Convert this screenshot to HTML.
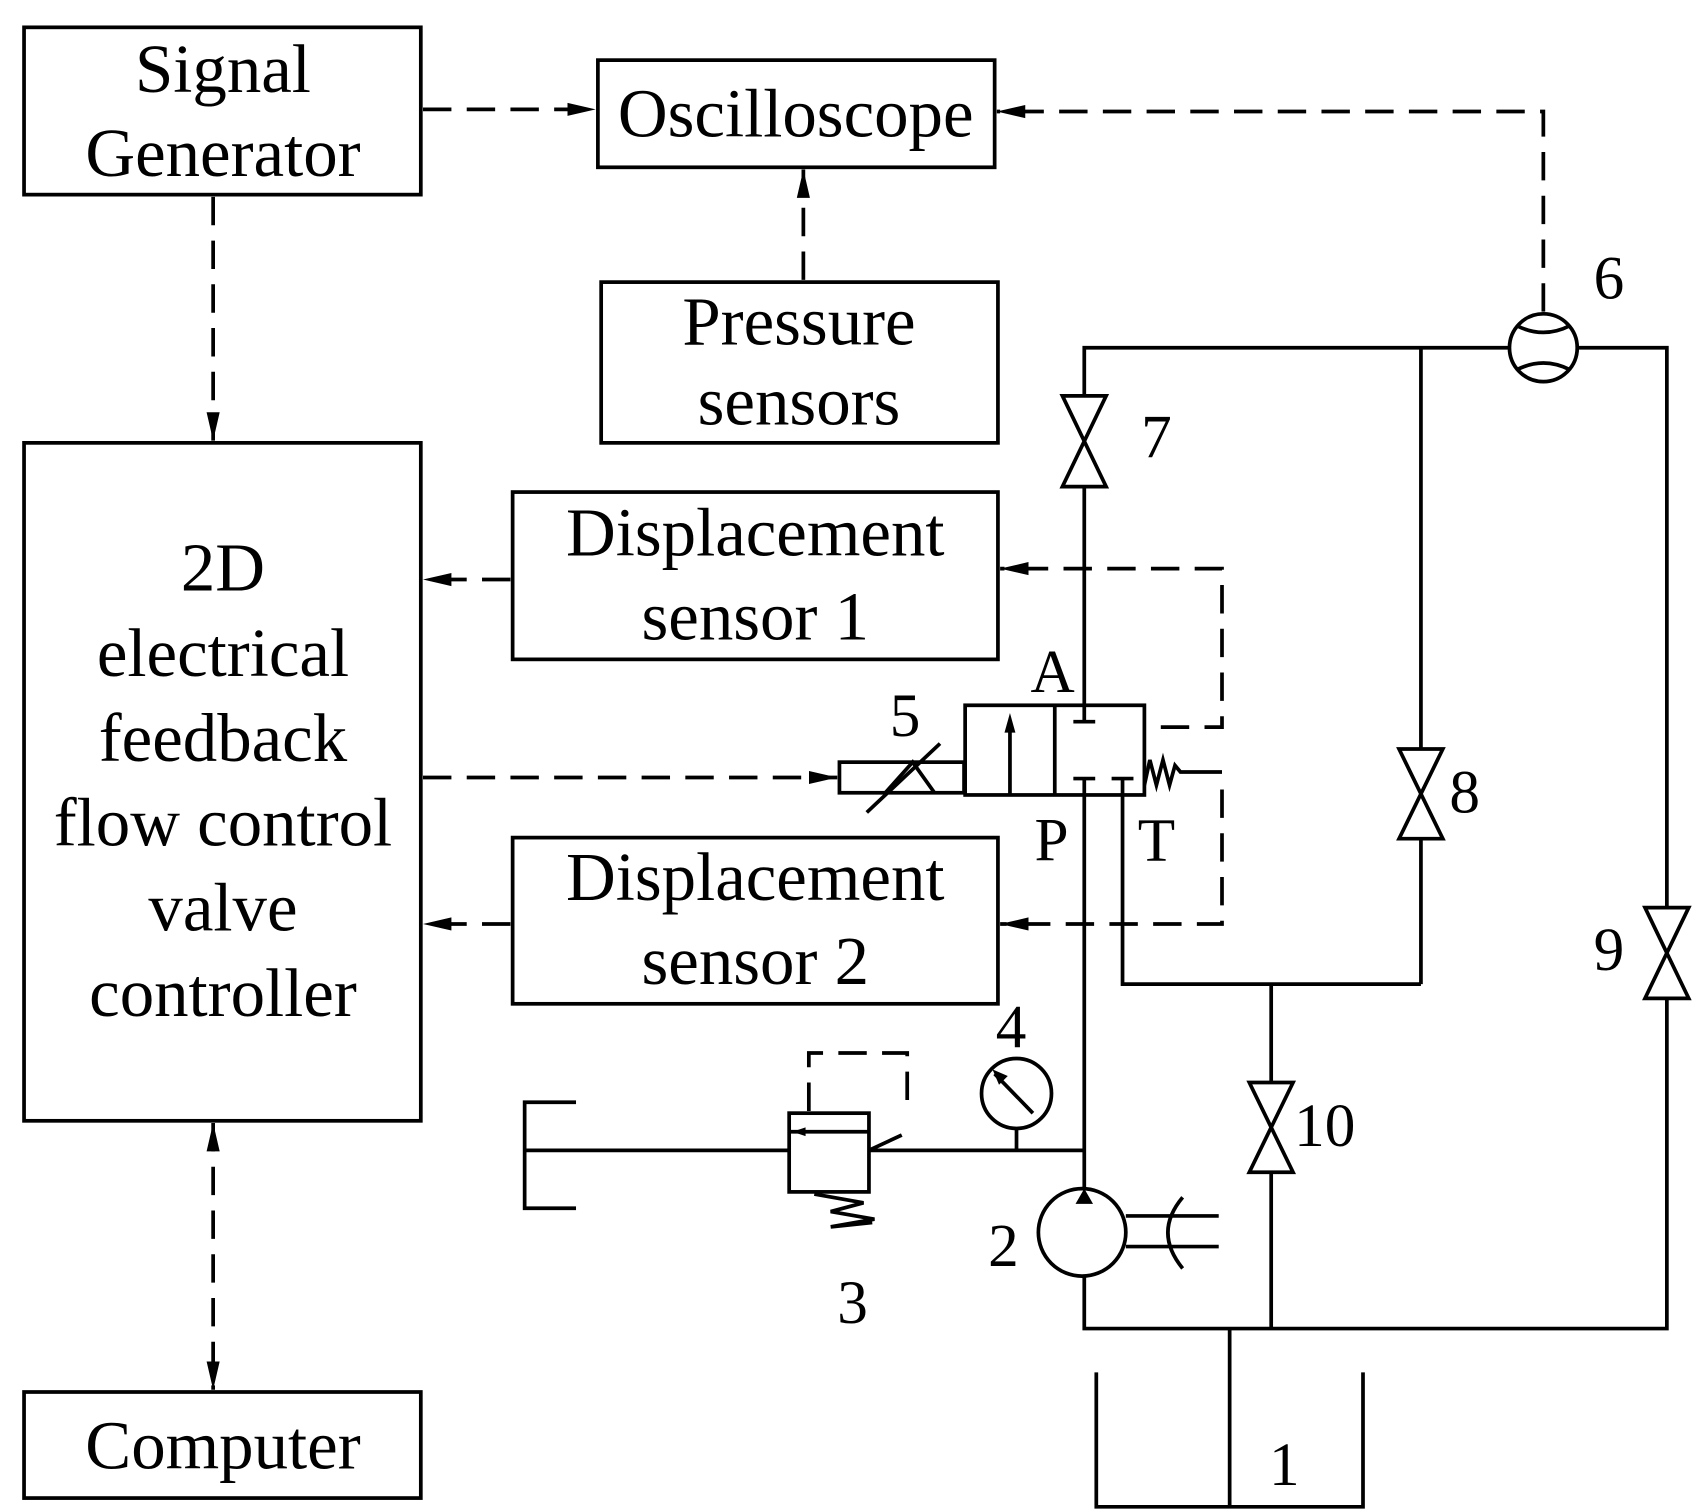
<!DOCTYPE html>
<html><head><style>html,body{margin:0;padding:0;background:#fff}svg{display:block}</style></head><body>
<svg width="1692" height="1509" viewBox="0 0 1548 1380" preserveAspectRatio="none" xmlns="http://www.w3.org/2000/svg">
<defs>
<marker id="ar2" markerWidth="28" markerHeight="16" refX="26" refY="8" orient="auto" markerUnits="userSpaceOnUse"><path d="M0,2 L26,8 L0,14Z" fill="#000"/></marker>
<marker id="ar2s" markerWidth="28" markerHeight="16" refX="2" refY="8" orient="auto" markerUnits="userSpaceOnUse"><path d="M28,2 L2,8 L28,14Z" fill="#000"/></marker></defs>
<g fill="none" stroke="#000" stroke-width="3.4">
<rect x="22" y="25" width="363" height="153"/>
<rect x="547" y="55" width="363" height="98"/>
<rect x="550" y="258" width="363" height="147"/>
<rect x="22" y="405" width="363" height="620"/>
<rect x="469" y="450" width="444" height="153"/>
<rect x="469" y="766" width="444" height="152"/>
<rect x="22" y="1273" width="363" height="97"/>
</g>
<g fill="none" stroke="#000" stroke-width="3.4" stroke-dasharray="26,14">
<line x1="387" y1="100" x2="545" y2="100" marker-end="url(#ar2)"/>
<polyline points="1412,285 1412,102 912,102" marker-end="url(#ar2)"/>
<line x1="735" y1="256" x2="735" y2="155" marker-end="url(#ar2)"/>
<line x1="195" y1="180" x2="195" y2="403" marker-end="url(#ar2)"/>
<line x1="467" y1="530" x2="387" y2="530" marker-end="url(#ar2)"/>
<line x1="467" y1="845" x2="387" y2="845" marker-end="url(#ar2)"/>
<line x1="387" y1="711" x2="766" y2="711" marker-end="url(#ar2)"/>
<polyline points="1062,665 1118,665 1118,520 915,520" marker-end="url(#ar2)"/>
<polyline points="1118,722 1118,845 915,845" marker-end="url(#ar2)"/>
<line x1="195" y1="1027" x2="195" y2="1271" marker-start="url(#ar2s)" marker-end="url(#ar2)"/>
<polyline points="740,1016 740,963 830,963 830,1012"/>
</g>
<g fill="none" stroke="#000" stroke-width="3.4">
<rect x="768" y="697" width="114" height="28"/>
<line x1="793" y1="743" x2="860" y2="680"/>
<path d="M810,725 L835,697 L855,725"/>
<rect x="883" y="645" width="164" height="82"/>
<line x1="965" y1="645" x2="965" y2="727"/>
<line x1="924" y1="727" x2="924" y2="665"/>
<line x1="992" y1="645" x2="992" y2="660"/><line x1="982" y1="660" x2="1002" y2="660"/>
<line x1="982" y1="712" x2="1002" y2="712"/><line x1="1017" y1="712" x2="1037" y2="712"/>
<line x1="992" y1="712" x2="992" y2="727"/><line x1="1027" y1="712" x2="1027" y2="727"/>
<path d="M1047,718 L1052,695 L1058,718 L1064,695 L1070,718 L1075,700 L1080,706 L1118,706"/>
<polyline points="992,645 992,318 1381,318"/>
<polyline points="1443,318 1525,318 1525,1215 992,1215 992,1167"/>
<line x1="1300" y1="318" x2="1300" y2="900"/>
<polyline points="1027,727 1027,900 1300,900"/>
<line x1="1163" y1="900" x2="1163" y2="1215"/>
<line x1="992" y1="727" x2="992" y2="1087"/>
<circle cx="1412" cy="318" r="31"/>
<path d="M1388,298 Q1412,310 1436,298 M1388,338 Q1412,326 1436,338"/>
<circle cx="990" cy="1127" r="40"/>
<line x1="1030" y1="1112" x2="1115" y2="1112"/><line x1="1030" y1="1140" x2="1115" y2="1140"/>
<path d="M1082,1095 Q1055,1127 1082,1160"/>
<line x1="1125" y1="1215" x2="1125" y2="1378"/>
<polyline points="1003,1255 1003,1378 1247,1378 1247,1255"/>
<line x1="480" y1="1052" x2="992" y2="1052"/>
<polyline points="527,1008 480,1008 480,1105 527,1105"/>
<rect x="722" y="1018" width="73" height="72" fill="#fff"/>
<line x1="722" y1="1035" x2="795" y2="1035"/>
<line x1="795" y1="1052" x2="825" y2="1038"/>
<path d="M745,1092 L790,1100 L760,1108 L800,1115 L760,1122 L798,1118"/>
<circle cx="930" cy="1000" r="32"/>
<line x1="930" y1="1032" x2="930" y2="1052"/>
<line x1="910" y1="982" x2="945" y2="1018"/>
</g>
<path d="M908,978 L922,984 L914,992Z" fill="#000"/>
<path d="M919,670 L924,652 L929,670Z" fill="#000"/>
<path d="M984,1101 L992,1087 L1000,1101Z" fill="#000"/>
<path d="M737,1031 L725,1035 L737,1039Z" fill="#000"/>
<g fill="#fff" stroke="#000" stroke-width="3.4">
<path d="M972,362 L1012,362 L972,445 L1012,445Z"/>
<path d="M1280,685 L1320,685 L1280,767 L1320,767Z"/>
<path d="M1505,830 L1545,830 L1505,913 L1545,913Z"/>
<path d="M1143,990 L1183,990 L1143,1072 L1183,1072Z"/>
</g>
<g font-family="Liberation Serif, serif" font-size="63" text-anchor="middle" fill="#000">
<text x="204" y="84">Signal</text><text x="204" y="161">Generator</text>
<text x="728" y="125">Oscilloscope</text>
<text x="731" y="315">Pressure</text><text x="731" y="388">sensors</text>
<text x="204" y="540">2D</text><text x="204" y="618">electrical</text><text x="204" y="696">feedback</text>
<text x="204" y="773">flow control</text><text x="204" y="851">valve</text><text x="204" y="929">controller</text>
<text x="691" y="508">Displacement</text><text x="691" y="585">sensor 1</text>
<text x="691" y="823">Displacement</text><text x="691" y="900">sensor 2</text>
<text x="204" y="1343">Computer</text>
</g>
<g font-family="Liberation Serif, serif" font-size="56" text-anchor="middle" fill="#000">
<text x="963" y="633">A</text><text x="962" y="787">P</text><text x="1058" y="787">T</text>
<text x="828" y="673">5</text><text x="1058" y="418">7</text><text x="1472" y="273">6</text>
<text x="1340" y="743">8</text><text x="1472" y="887">9</text><text x="1212" y="1048">10</text>
<text x="925" y="958">4</text><text x="918" y="1158">2</text><text x="780" y="1210">3</text><text x="1175" y="1358">1</text>
</g>
</svg>
</body></html>
